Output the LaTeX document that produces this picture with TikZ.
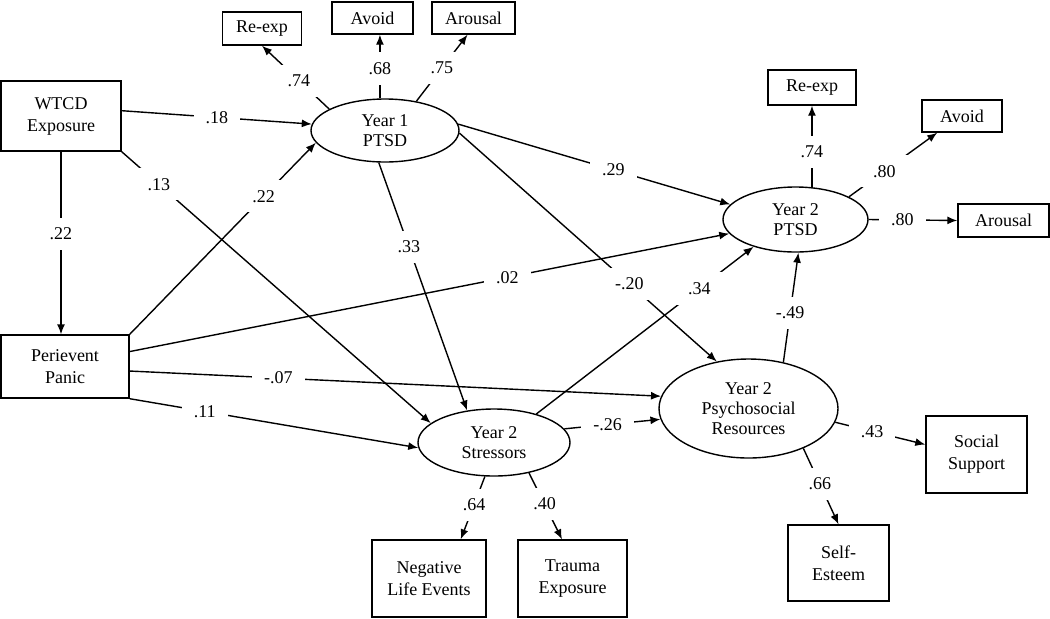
\documentclass[tikz,border=0pt]{standalone}
\usepackage{fontspec}
\setmainfont{Liberation Serif}
\usetikzlibrary{shapes,arrows.meta}
\tikzset{
  obs/.style={
      draw,
      line width=0.7pt,
      align=center,
      inner sep=0pt,
      font=\fontsize{9}{11}\selectfont
    },
  latent/.style={
      draw,
      ellipse,
      line width=0.7pt,
      align=center,
      inner sep=0pt,
      font=\fontsize{9}{10}\selectfont
    },
  coef/.style={
      fill=white,
      inner xsep=6pt,
      inner ysep=5pt,
      font=\fontsize{9}{11}\selectfont
    },
  effect/.style={->, line width=0.7pt}
}
\begin{document}
\begin{tikzpicture}[x=0.5pt,y=-0.5pt,>={Latex[length=5pt,width=4pt]}]
\useasboundingbox (0,0) rectangle (1050,618);
% the shapes
\node[obs, minimum width=60pt, minimum height=35pt] (wtcd) at (61,116) {WTCD\\Exposure};
\node[obs, minimum width=64pt, minimum height=31.5pt] (panic) at (65,366.5) {Perievent\\Panic};
\node[latent, minimum width=74pt, minimum height=31.5pt] (ptsdA) at (385,130.5) {Year 1\\PTSD};
\node[latent, minimum width=72.5pt, minimum height=32.5pt] (ptsdB) at (795.5,219.5) {Year 2\\PTSD};
\node[latent, minimum width=76pt, minimum height=33.5pt] (stress) at (494,442.5) {Year 2\\Stressors};
\node[latent, minimum width=89.5pt, minimum height=49.5pt] (psych) at (748.5,408.5) {Year 2\\Psychosocial\\Resources};
\node[obs, minimum width=39.5pt, minimum height=16.5pt] (reexpA) at (262,28.5) {Re-exp};
\node[obs, minimum width=40.5pt, minimum height=16pt] (avoidA) at (372.5,18) {Avoid};
\node[obs, minimum width=41.5pt, minimum height=16pt] (arousalA) at (473.5,18) {Arousal};
\node[obs, minimum width=44pt, minimum height=17.5pt] (reexpB) at (812,87.5) {Re-exp};
\node[obs, minimum width=40pt, minimum height=16pt] (avoidB) at (962,116) {Avoid};
\node[obs, minimum width=45.5pt, minimum height=16.5pt] (arousalB) at (1003.5,220.5) {Arousal};
\node[obs, minimum width=57pt, minimum height=38.5pt] (negev) at (429,578.5) {Negative\\Life Events};
\node[obs, minimum width=54.5pt, minimum height=38.5pt] (trauma) at (572.5,578.5) {Trauma\\Exposure};
\node[obs, minimum width=50.5pt, minimum height=38.5pt] (social) at (976.5,454.5) {Social\\Support};
\node[obs, minimum width=50.5pt, minimum height=38pt] (selfest) at (838.5,563) {Self-\\Esteem};

% structural paths
\draw[effect] (wtcd.5) -- node[coef, pos=.5] {.18} (ptsdA.175);
\draw[effect] (wtcd.south east) -- node[coef, pos=.12] {.13} (stress.163);
\draw[effect] (wtcd.south) -- node[coef, pos=.45] {.22} (wtcd.south |- panic.north);
\draw[effect] (panic.north east) -- node[coef, pos=.72] {.22} (ptsdA.190);
\draw[effect] (panic.13) -- node[coef, pos=.63] {.02} (ptsdB.192);
\draw[effect] (panic.-4) -- node[coef, pos=.28] {-.07} (psych.172);
\draw[effect] (panic.south east) -- node[coef, pos=.26] {.11} (stress.184);
\draw[effect] (ptsdA.5) -- node[coef, pos=.57] {.29} (ptsdB.167);
\draw[effect] (ptsdA.-2) -- node[coef, pos=.66] {-.20} (psych.124);
\draw[effect] (ptsdA.259) -- node[coef, pos=.34] {.33} (stress.130);
\draw[effect] (stress.34) -- node[coef, pos=.75] {.34} (ptsdB.213);
\draw[effect] (stress.11) -- node[coef, pos=.45] {-.26} (psych.187);
\draw[effect] (psych.53) -- node[coef, pos=.45] {-.49} (ptsdB.275);

% loadings
\draw[effect] (ptsdA.159) -- node[coef, pos=.45] {.74} (reexpA.south);
\draw[effect] (ptsdA.99) -- node[coef, pos=.47] {.68} (ptsdA.99 |- avoidA.south);
\draw[effect] (ptsdA.43) -- node[coef, pos=.5] {.75} ([xshift=-3pt]arousalA.south);
\draw[effect] (ptsdB.63) -- node[coef, pos=.43] {.74} (ptsdB.63 |- reexpB.south);
\draw[effect] (ptsdB.23) -- node[coef, pos=.4] {.80} (avoidB.214);
\draw[effect] (ptsdB.east) -- node[coef, pos=.38] {.80} (arousalB.west);
\draw[effect] (stress.255) -- node[coef, pos=.45] {.64} (negev.51);
\draw[effect] (stress.319) -- node[coef, pos=.47] {.40} (trauma.105);
\draw[effect] (psych.351) -- node[coef, pos=.41] {.43} (social.169);
\draw[effect] (psych.324) -- node[coef, pos=.47] {.66} (selfest.north);
\end{tikzpicture}
\end{document}
